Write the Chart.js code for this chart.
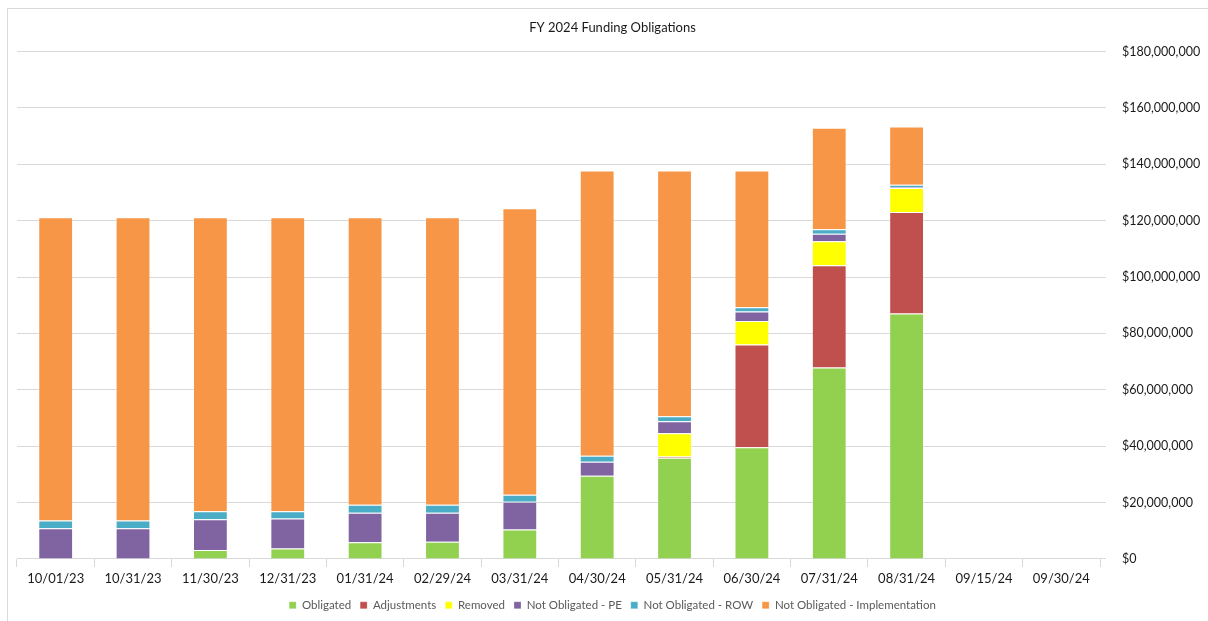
<!DOCTYPE html>
<html>
<head>
<meta charset="utf-8">
<script src="https://cdn.jsdelivr.net/npm/chart.js@4.4.1/dist/chart.umd.min.js"></script>
<style>
    html, body { margin: 0; padding: 0; background: #ffffff; }
    #wrap { position: relative; width: 1208px; height: 621px; }
    #frame { position: absolute; left: 7px; top: 8px; width: 1300px; height: 700px; border: 1px solid #d9d9d9; box-sizing: border-box; pointer-events: none; }
</style>
</head>
<body>
<div id="wrap">
    <div id="frame"></div>
    <canvas id="chart" width="1208" height="621"></canvas>
</div>
<script>
const labels = ['10/01/23', '10/31/23', '11/30/23', '12/31/23', '01/31/24', '02/29/24', '03/31/24',
    '04/30/24', '05/31/24', '06/30/24', '07/31/24', '08/31/24', '09/15/24', '09/30/24'];

// values in dollars
const obligated      = [0, 0, 3.2e6, 3.7e6, 5.9e6, 6.1e6, 10.4e6, 29.5e6, 35.9e6, 39.6e6, 67.9e6, 87.1e6, null, null];
const adjustments    = [0, 0, 0, 0, 0, 0, 0, 0, 0.4e6, 36.5e6, 36.3e6, 36.0e6, null, null];
const removed        = [0, 0, 0, 0, 0, 0, 0, 0, 8.3e6, 8.3e6, 8.5e6, 8.5e6, null, null];
const notObligatedPE = [10.9e6, 10.9e6, 10.9e6, 10.6e6, 10.5e6, 10.3e6, 9.9e6, 5.0e6, 4.2e6, 3.4e6, 2.7e6, 0.3e6, null, null];
const notObligatedROW = [2.7e6, 2.7e6, 2.8e6, 2.6e6, 2.8e6, 2.8e6, 2.5e6, 2.1e6, 1.8e6, 1.5e6, 1.6e6, 0.9e6, null, null];
const notObligatedImpl = [107.6e6, 107.6e6, 104.3e6, 104.3e6, 102.0e6, 102.0e6, 101.6e6, 101.2e6, 87.2e6, 48.5e6, 36.0e6, 20.6e6, null, null];

const yTicks = [0, 20e6, 40e6, 60e6, 80e6, 100e6, 120e6, 140e6, 160e6, 180e6];

const fontFamily = "Lato, 'Open Sans', sans-serif";

function series(label, data, color) {
    return {
        label: label,
        data: data,
        backgroundColor: color,
        borderColor: 'rgba(255,255,255,0.25)',
        borderWidth: 1,
        barPercentage: 0.45,
        categoryPercentage: 1.0
    };
}

const ctx = document.getElementById('chart').getContext('2d');
new Chart(ctx, {
    type: 'bar',
    data: {
        labels: labels,
        datasets: [
            series('Obligated', obligated, '#92D050'),
            series('Adjustments', adjustments, '#C0504D'),
            series('Removed', removed, '#FFFF00'),
            series('Not Obligated - PE', notObligatedPE, '#8064A2'),
            series('Not Obligated - ROW', notObligatedROW, '#4BACC6'),
            series('Not Obligated - Implementation', notObligatedImpl, '#F79646')
        ]
    },
    options: {
        responsive: false,
        animation: false,
        layout: { padding: { left: 17, right: 0, top: 20, bottom: 0 } },
        scales: {
            x: {
                stacked: true,
                grid: {
                    offset: true,
                    drawOnChartArea: false,
                    drawTicks: true,
                    tickLength: 8,
                    color: '#d9d9d9'
                },
                border: { color: '#d9d9d9' },
                ticks: {
                    color: '#1a1a1a',
                    padding: 4,
                    maxRotation: 0,
                    font: { family: fontFamily, size: 13 }
                }
            },
            y: {
                stacked: true,
                position: 'right',
                min: 0,
                max: 180e6,
                afterBuildTicks: (axis) => { axis.ticks = yTicks.map(v => ({ value: v })); },
                afterFit: (axis) => { axis.width = 108; },
                grid: { color: '#d9d9d9', drawTicks: true, tickLength: 6 },
                border: { display: false },
                ticks: {
                    color: '#1a1a1a',
                    padding: 16,
                    font: { family: fontFamily, size: 12.5 },
                    callback: (value) => '$' + value.toLocaleString('en-US')
                }
            }
        },
        plugins: {
            title: {
                display: true,
                text: 'FY 2024 Funding Obligations',
                color: '#1a1a1a',
                font: { family: fontFamily, size: 13, weight: 'normal' },
                padding: { top: 0, bottom: 16 }
            },
            legend: {
                position: 'bottom',
                labels: {
                    boxWidth: 7,
                    boxHeight: 7,
                    padding: 9,
                    color: '#595959',
                    font: { family: fontFamily, size: 11.5 }
                }
            },
            tooltip: { enabled: false }
        }
    }
});
</script>
</body>
</html>
